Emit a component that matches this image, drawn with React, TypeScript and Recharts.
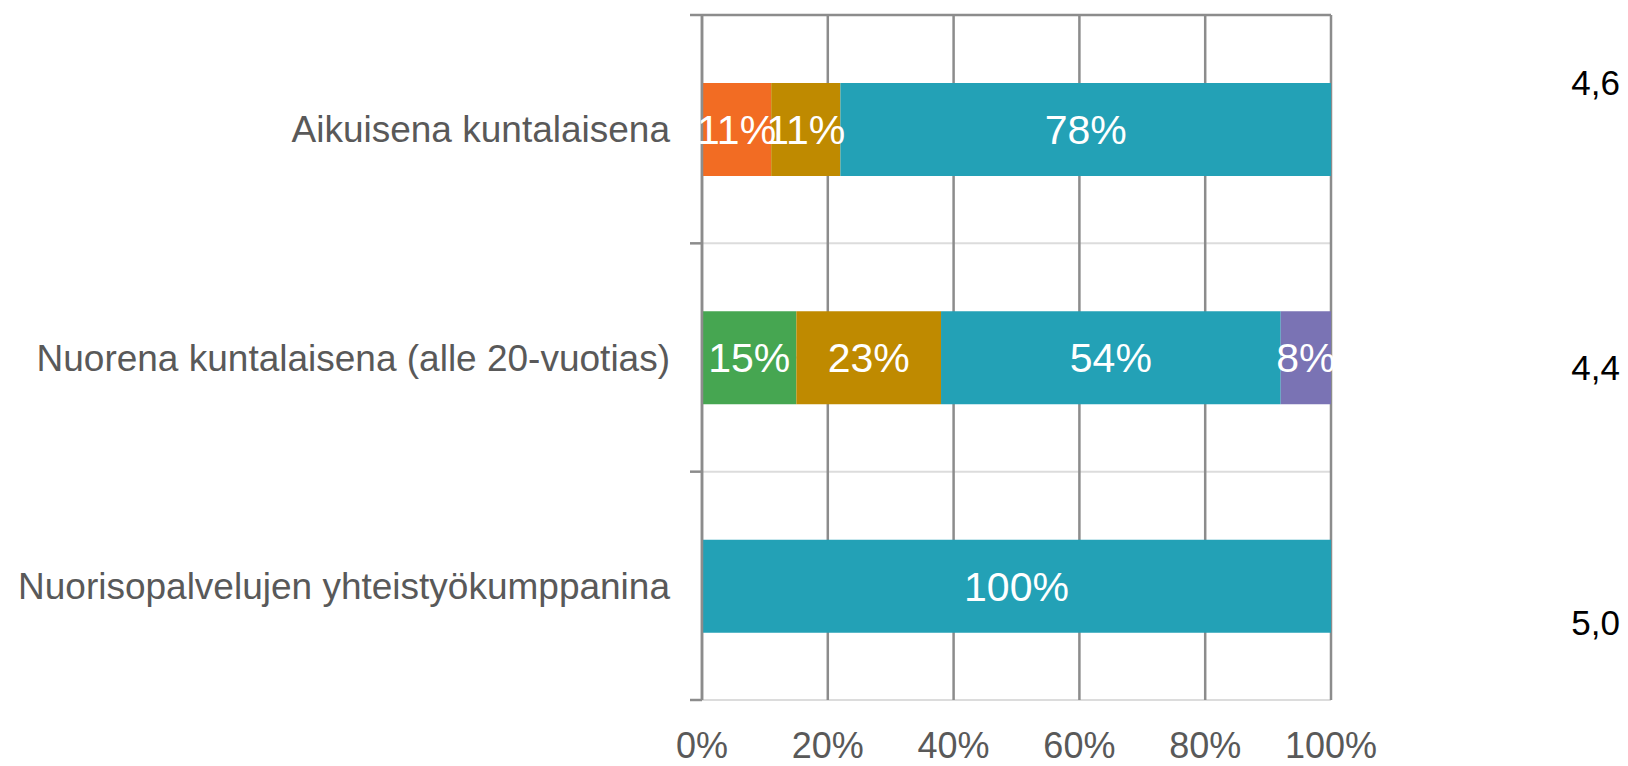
import { BarChart, Bar, XAxis, YAxis, CartesianGrid, LabelList } from 'recharts';

const categories = [
  'Aikuisena kuntalaisena',
  'Nuorena kuntalaisena (alle 20-vuotias)',
  'Nuorisopalvelujen yhteistyökumppanina',
];
const orangeValues = [11, 0, 0];
const greenValues = [0, 15, 0];
const goldValues = [11, 23, 0];
const tealValues = [78, 54, 100];
const purpleValues = [0, 8, 0];
const xTicks = [0, 20, 40, 60, 80, 100];
// band edges (whole numbers) and band centres (halves) on the frame axis
const frameTicks = [0, 0.5, 1, 1.5, 2, 2.5, 3];
const averages = ['4,6', '4,4', '5,0'];

const FONT = '"Liberation Sans", Arial, sans-serif';
const DARK = '#8c8c8c';
const LIGHT = '#dcdcdc';

const data = categories.map((name, i) => ({
  name,
  frame: i + 0.5,
  orange: orangeValues[i],
  green: greenValues[i],
  gold: goldValues[i],
  teal: tealValues[i],
  purple: purpleValues[i],
}));

const series = [
  { key: 'orange', color: '#F26C23' },
  { key: 'green', color: '#46A651' },
  { key: 'gold', color: '#BF8A00' },
  { key: 'teal', color: '#23A1B6' },
  { key: 'purple', color: '#7A73B4' },
];

// the averages column sits outside the plot, off the bar centres
const averageTops = [63, 348, 603];

function FrameTick(props: any) {
  const { x, y, payload } = props;
  const v = payload.value;
  if (Number.isInteger(v)) {
    return <line x1={x - 12} x2={x} y1={y} y2={y} stroke={DARK} strokeWidth={2.5} />;
  }
  return (
    <text
      x={x - 32}
      y={y}
      dy="0.36em"
      textAnchor="end"
      fill="#595959"
      fontSize={37}
      fontFamily={FONT}
    >
      {categories[Math.floor(v)]}
    </text>
  );
}

export default function App() {
  return (
    <div style={{ position: 'absolute', left: 0, top: 0, width: 1628, height: 766, fontFamily: FONT }}>
      <BarChart
        width={1628}
        height={766}
        data={data}
        layout="vertical"
        margin={{ top: 4, right: 297, bottom: 0, left: 0 }}
        barSize={93}
      >
        <CartesianGrid yAxisId="frame" vertical={false} stroke={LIGHT} strokeWidth={2} />
        <CartesianGrid yAxisId="frame" horizontal={false} stroke={DARK} strokeWidth={2.5} />
        <XAxis
          type="number"
          domain={[0, 100]}
          ticks={xTicks}
          axisLine={false}
          tickLine={false}
          tickSize={0}
          tickMargin={32}
          height={66}
          tickFormatter={(v) => `${v}%`}
          tick={{ fill: '#595959', fontSize: 36, fontFamily: FONT }}
        />
        <XAxis
          xAxisId="top"
          orientation="top"
          type="number"
          domain={[0, 100]}
          ticks={xTicks}
          height={11}
          tickSize={11}
          axisLine={{ stroke: DARK, strokeWidth: 2.5 }}
          tickLine={{ stroke: DARK, strokeWidth: 2.5 }}
          tick={() => <g />}
        />
        <YAxis type="category" dataKey="name" hide width={0} />
        <YAxis
          yAxisId="frame"
          type="number"
          dataKey="frame"
          domain={[0, 3]}
          ticks={frameTicks}
          interval={0}
          width={702}
          tickSize={0}
          tickMargin={0}
          tickLine={false}
          axisLine={{ stroke: DARK, strokeWidth: 2.5 }}
          tick={<FrameTick />}
        />
        {series.map((s) => (
          <Bar key={s.key} dataKey={s.key} stackId="a" fill={s.color} isAnimationActive={false}>
            <LabelList
              dataKey={s.key}
              position="center"
              fill="#ffffff"
              fontSize={41}
              fontFamily={FONT}
              formatter={(v: any) => (v ? `${v}%` : '')}
            />
          </Bar>
        ))}
      </BarChart>
      {averages.map((a, i) => (
        <div
          key={a + i}
          style={{
            position: 'absolute',
            right: 8,
            top: averageTops[i],
            fontSize: 35,
            lineHeight: '40px',
            color: '#000',
          }}
        >
          {a}
        </div>
      ))}
    </div>
  );
}
